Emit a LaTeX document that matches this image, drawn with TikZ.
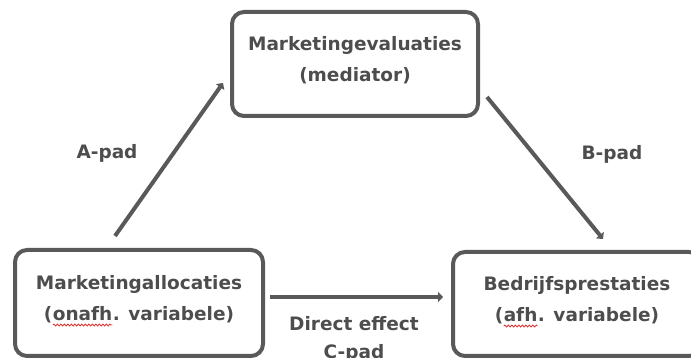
\documentclass[tikz,border=0pt]{standalone}
\usepackage{fontspec}
\setmainfont{DejaVu Sans}
\usetikzlibrary{arrows.meta,decorations.pathmorphing}

\definecolor{boxgray}{HTML}{595959}
\definecolor{textgray}{HTML}{4D4D4D}
\definecolor{spellred}{HTML}{E03030}

% wavy red underline as in the original screenshot
\newcommand{\spellmark}[1]{\tikz[baseline=(w.base), sharp corners]{\node[draw=none, inner sep=0pt, outer sep=0pt, minimum width=0pt, minimum height=0pt] (w) {#1};
  \draw[spellred, line width=0.8pt, decorate, decoration={snake, amplitude=1pt, segment length=3.5pt}] ([yshift=-4.5pt]w.base west) -- ([yshift=-4.5pt]w.base east);}}

\begin{document}
\begin{tikzpicture}[x=1pt, y=1pt, font=\fontsize{18.5}{31}\selectfont\bfseries, text=textgray,
  box_node/.style={draw=boxgray, line width=4pt, rounded corners=12pt, minimum width=246pt, minimum height=104pt, align=center, inner sep=0pt, outer sep=0pt},
  pad_arrow/.style={draw=boxgray, line width=4pt, -{Triangle[length=5pt,width=10pt]}},
  pad_label/.style={inner sep=0pt, align=center}]

  \useasboundingbox (0,0) rectangle (691,358);
  \clip (0,0) rectangle (691,358);

  \node[box_node] (eval) at (355,294) {Marketingevaluaties\\(mediator)\\[-21pt]};
  \node[box_node, minimum width=248pt, minimum height=106pt] (alloc) at (139,55) {Marketingallocaties\\(\spellmark{onafh}. variabele)\\[-21pt]};
  \node[box_node, minimum width=248pt] (perf) at (577,54) {Bedrijfsprestaties\\(\spellmark{afh}. variabele)\\[-21pt]};

  \node[pad_label] (apad) at (107,205) {A-pad};
  \node[pad_label] (bpad) at (612,204) {B-pad};
  \node[pad_label] (cpad) at (354,19) {Direct effect\\[-3pt]C-pad};

  \draw[pad_arrow] ([shift={(-24,14)}]alloc.north) -- ([shift={(-9,-19)}]eval.west);
  \draw[pad_arrow] ([shift={(9,-33)}]eval.east) -- ([shift={(26,13)}]perf.north);
  \draw[pad_arrow] ([shift={(7,6)}]alloc.east) -- ([shift={(-10,7)}]perf.west);
\end{tikzpicture}
\end{document}
